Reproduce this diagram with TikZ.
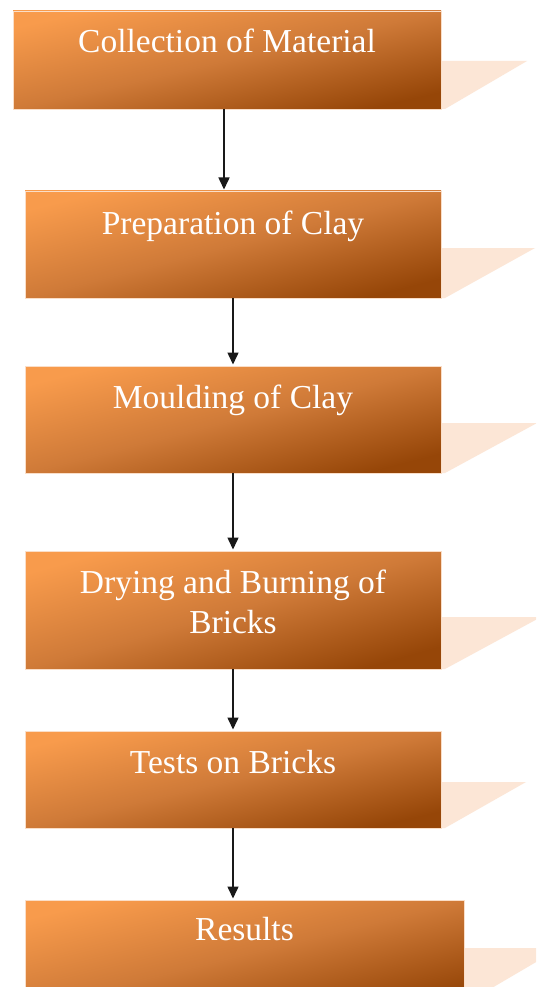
\documentclass[tikz,border=0pt]{standalone}
\usepackage{fontspec}
\setmainfont{Liberation Serif}
\usetikzlibrary{arrows.meta,calc}
\definecolor{boxlight}{RGB}{248,155,76}
\definecolor{boxmid}{RGB}{207,122,56}
\definecolor{boxdark}{RGB}{150,70,8}
\definecolor{shadowpeach}{RGB}{252,230,214}
\definecolor{boxedge}{RGB}{250,222,200}
\definecolor{arrowgray}{RGB}{25,25,25}
\begin{document}
\begin{tikzpicture}[x=1pt,y=-1pt,
  stepbox/.style={rectangle, draw=boxedge, line width=0.8pt, top color=boxlight, bottom color=boxdark, middle color=boxmid, shading angle=#1, inner sep=0pt, outer sep=0pt},
  steptext/.style={anchor=base, text=white, font=\fontsize{33.5}{40}\selectfont, align=center, inner sep=0pt},
  flowarrow/.style={draw=arrowgray, line width=1.5pt, shorten >=1.5pt, -{Triangle[width=11pt,length=12pt]}},
  shadowshape/.style={fill=shadowpeach, draw=none}]
\clip (0,0) rectangle (536,987);
\fill[white] (0,0) rectangle (536,987);
% shadows
\fill[shadowshape] (441,61) -- (527,61) -- (445,109) -- (441,109) -- cycle;
\fill[shadowshape] (441,248) -- (535,248) -- (445,298) -- (441,298) -- cycle;
\fill[shadowshape] (441,423) -- (537,423) -- (445,473) -- (441,473) -- cycle;
\fill[shadowshape] (441,617) -- (541,617) -- (445,669) -- (441,669) -- cycle;
\fill[shadowshape] (441,782) -- (526,782) -- (445,828) -- (441,828) -- cycle;
\fill[shadowshape] (464,948) -- (560,948) -- (468,1002) -- (464,1002) -- cycle;
% boxes
\node[stepbox=12.9, minimum width=428pt, minimum height=98pt] (b1) at (227,60) {};
\node[stepbox=14.4, minimum width=416pt, minimum height=107pt] (b2) at (233,244.5) {};
\node[stepbox=14.4, minimum width=416pt, minimum height=107pt] (b3) at (233,419.5) {};
\node[stepbox=15.8, minimum width=416pt, minimum height=118pt] (b4) at (233,610) {};
\node[stepbox=13.1, minimum width=416pt, minimum height=97pt] (b5) at (233,779.5) {};
\node[stepbox=13.8, minimum width=439pt, minimum height=108pt] (b6) at (244.5,954) {};
% texts
\node[steptext] (t1) at ($(b1.north)+(0,42)$) {Collection of Material};
\node[steptext] (t2) at ($(b2.north)+(0,43)$) {Preparation of Clay};
\node[steptext] (t3) at ($(b3.north)+(0,42)$) {Moulding of Clay};
\node[steptext] (t4) at ($(b4.north)+(0,82)$) {Drying and Burning of\\Bricks};
\node[steptext] (t5) at ($(b5.north)+(0,42.5)$) {Tests on Bricks};
\node[steptext] (t6) at ($(b6.north)+(0,40)$) {Results};
% arrows
\draw[flowarrow] ([xshift=-3pt]b1.south) -- ([xshift=-9pt]b2.north);
\draw[flowarrow] (b2.south) -- (b3.north);
\draw[flowarrow] (b3.south) -- (b4.north);
\draw[flowarrow] (b4.south) -- (b5.north);
\draw[flowarrow] (b5.south) -- ([xshift=-11.5pt]b6.north);
\end{tikzpicture}
\end{document}
